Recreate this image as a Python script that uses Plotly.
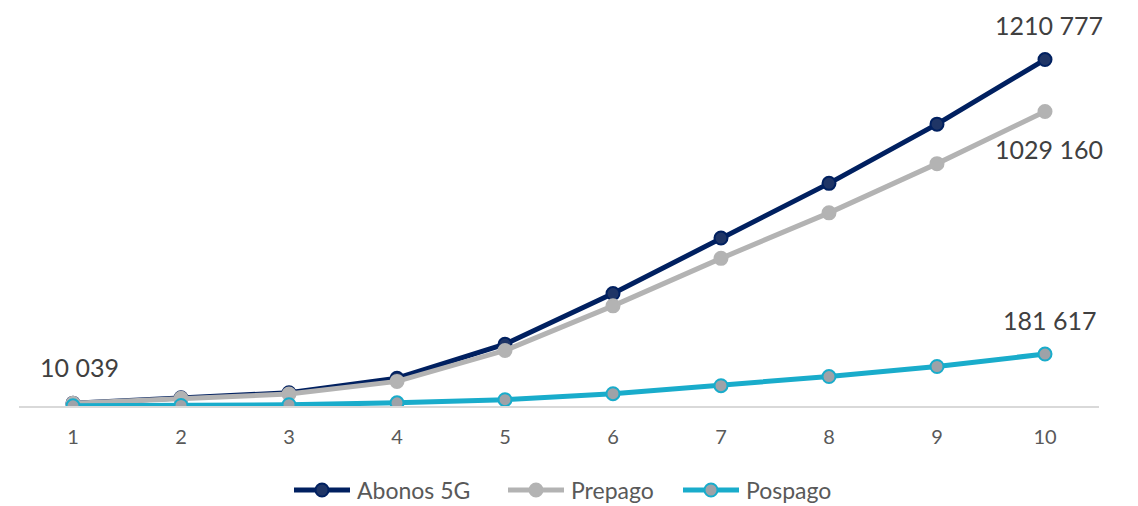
import plotly.graph_objects as go

# Periods on the horizontal axis
periods = [1, 2, 3, 4, 5, 6, 7, 8, 9, 10]

# Subscriber counts per series
abonos_5g = [10039, 28800, 46500, 97000, 216000, 393000, 587000, 778000, 985000, 1210777]
prepago = [9439, 27000, 42000, 86000, 194000, 350000, 516000, 675000, 847000, 1029160]
pospago = [600, 1800, 4500, 11000, 22000, 43000, 71000, 103000, 138000, 181617]

series_names = ["Abonos 5G", "Prepago", "Pospago"]

FONT = "Lato"
TEXT_COLOR = "#404040"

# Plot-area geometry in pixels (used for the hand-drawn legend)
W, H = 1138, 506
ML, MR, MT, MB = 19, 39, 34, 100
PW, PH = W - ML - MR, H - MT - MB


def fmt(v):
    # last three digits separated by a space
    return f"{v // 1000} {v % 1000:03d}" if v >= 1000 else str(v)


def px_x(px):
    return (px - ML) / PW


def px_y(py):
    return (H - MB - py) / PH


styles = [
    dict(line="#002060", fill="#1F3566", edge="#002060"),
    dict(line="#B3B3B3", fill="#B3B3B3", edge="#B3B3B3"),
    dict(line="#19ACCB", fill="#9EA2A8", edge="#19ACCB"),
]

fig = go.Figure()
for name, values, st in zip(series_names, [abonos_5g, prepago, pospago], styles):
    fig.add_trace(go.Scatter(
        x=periods, y=values, name=name, mode="lines+markers",
        line=dict(color=st["line"], width=5),
        marker=dict(size=13, color=st["fill"], line=dict(color=st["edge"], width=2)),
        showlegend=False,
    ))

# Value labels
label_font = dict(family=FONT, size=25, color=TEXT_COLOR)
annotations = [
    dict(x=periods[0], y=abonos_5g[0], text=fmt(abonos_5g[0]), yshift=36, xshift=6),
    dict(x=periods[-1], y=abonos_5g[-1], text=fmt(abonos_5g[-1]), yshift=35, xshift=4),
    dict(x=periods[-1], y=prepago[-1], text=fmt(prepago[-1]), yshift=-37, xshift=4),
    dict(x=periods[-1], y=pospago[-1], text=fmt(pospago[-1]), yshift=34, xshift=4),
]
for a in annotations:
    a.update(xref="x", yref="y", showarrow=False, font=label_font,
             xanchor="center", yanchor="middle")

# Legend: line segment with a centred marker, followed by the series name
shapes = []
legend_y = 490
legend_starts = [294, 508, 683]
for name, st, x0 in zip(series_names, styles, legend_starts):
    x1 = x0 + 56
    xm = (x0 + x1) / 2
    shapes.append(dict(type="line", xref="paper", yref="paper",
                       x0=px_x(x0), x1=px_x(x1), y0=px_y(legend_y), y1=px_y(legend_y),
                       line=dict(color=st["line"], width=5)))
    r = 6.5
    shapes.append(dict(type="circle", xref="paper", yref="paper",
                       x0=px_x(xm - r), x1=px_x(xm + r),
                       y0=px_y(legend_y + r), y1=px_y(legend_y - r),
                       fillcolor=st["fill"], line=dict(color=st["edge"], width=2)))
    annotations.append(dict(xref="paper", yref="paper", x=px_x(x1 + 5), y=px_y(legend_y),
                            text=name, showarrow=False, xanchor="left", yanchor="middle",
                            font=dict(family=FONT, size=23, color="#595959")))

fig.update_layout(
    width=W, height=H,
    margin=dict(l=ML, r=MR, t=MT, b=MB, autoexpand=False),
    paper_bgcolor="white", plot_bgcolor="white",
    font=dict(family=FONT, color="#595959"),
    annotations=annotations,
    shapes=shapes,
    showlegend=False,
    xaxis=dict(
        range=[0.5, 10.5], tickmode="array", tickvals=periods,
        ticktext=[str(p) for p in periods],
        showgrid=False, zeroline=False,
        showline=True, linecolor="#D9D9D9", linewidth=2,
        ticks="", ticklabelstandoff=12,
        tickfont=dict(family=FONT, size=20, color="#595959"),
    ),
    yaxis=dict(
        range=[0, 1300000], visible=False, showgrid=False, zeroline=False,
    ),
)

fig.write_html("out.html")
